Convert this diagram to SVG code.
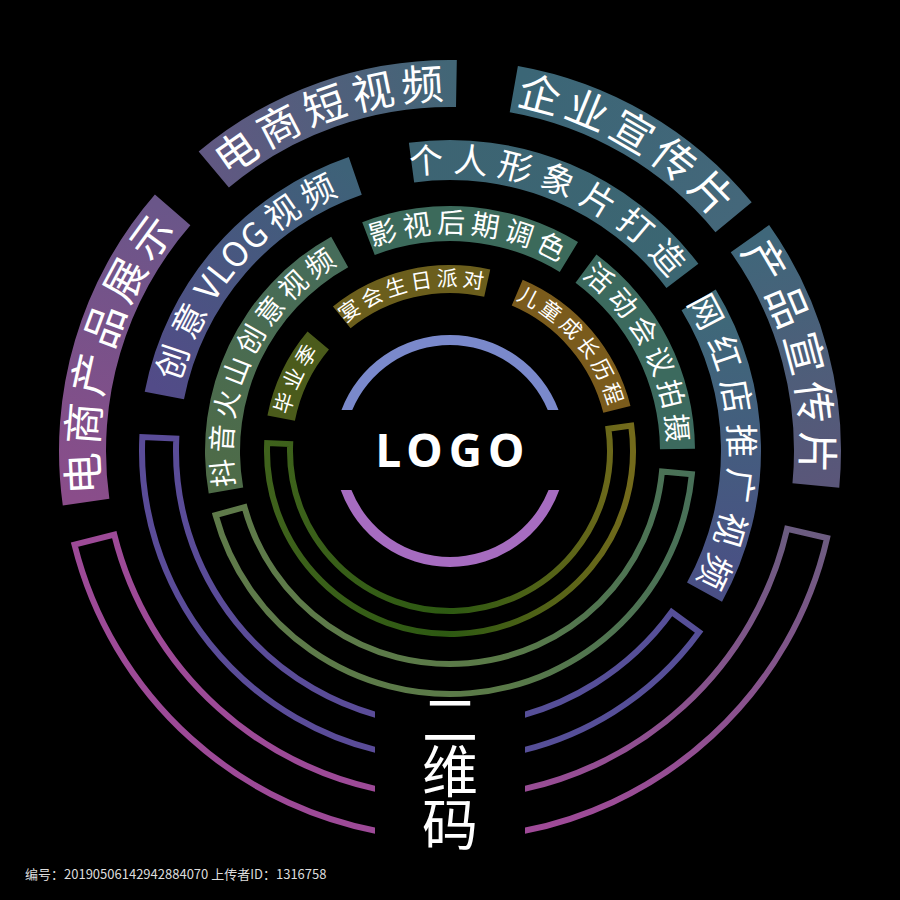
<svg xmlns="http://www.w3.org/2000/svg" xmlns:xlink="http://www.w3.org/1999/xlink" width="900" height="900" viewBox="0 0 900 900">
<style>
.lbl{font-family:"Noto Sans CJK SC","Noto Sans",sans-serif;fill:#ffffff;}
.r4{font-size:42px;letter-spacing:6px;}
.r3{font-size:34px;letter-spacing:9px;}
.r2{font-size:28px;letter-spacing:5px;}
.r1{font-size:21px;letter-spacing:4px;}
.ol{fill:none;stroke-width:6;stroke-linejoin:miter;}
</style>
<defs>
<linearGradient id="gA" gradientUnits="userSpaceOnUse" x1="86" y1="502" x2="172" y2="210"><stop offset="0" stop-color="#8a4d8a"/><stop offset="1" stop-color="#6a5689"/></linearGradient>
<linearGradient id="gB" gradientUnits="userSpaceOnUse" x1="214" y1="170" x2="456" y2="84"><stop offset="0" stop-color="#605882"/><stop offset="1" stop-color="#426676"/></linearGradient>
<linearGradient id="gC" gradientUnits="userSpaceOnUse" x1="514" y1="89" x2="735" y2="217"><stop offset="0" stop-color="#3b6676"/><stop offset="1" stop-color="#44677a"/></linearGradient>
<linearGradient id="gD" gradientUnits="userSpaceOnUse" x1="750" y1="239" x2="816" y2="486"><stop offset="0" stop-color="#3f677a"/><stop offset="1" stop-color="#5a5679"/></linearGradient>
<linearGradient id="gE" gradientUnits="userSpaceOnUse" x1="164" y1="396" x2="355" y2="176"><stop offset="0" stop-color="#524b88"/><stop offset="1" stop-color="#3e6278"/></linearGradient>
<linearGradient id="gF" gradientUnits="userSpaceOnUse" x1="411" y1="162" x2="682" y2="276"><stop offset="0" stop-color="#3d6473"/><stop offset="1" stop-color="#3b6672"/></linearGradient>
<linearGradient id="gG" gradientUnits="userSpaceOnUse" x1="698" y1="300" x2="705" y2="592"><stop offset="0" stop-color="#3e6a78"/><stop offset="1" stop-color="#4a4f85"/></linearGradient>
<linearGradient id="gH" gradientUnits="userSpaceOnUse" x1="226" y1="490" x2="340" y2="252"><stop offset="0" stop-color="#4e6b47"/><stop offset="1" stop-color="#466c5a"/></linearGradient>
<linearGradient id="gO1" gradientUnits="userSpaceOnUse" x1="267" y1="0" x2="631" y2="0"><stop offset="0" stop-color="#3f621c"/><stop offset="0.5" stop-color="#2d5912"/><stop offset="1" stop-color="#736a1b"/></linearGradient>
<linearGradient id="gO2" gradientUnits="userSpaceOnUse" x1="215" y1="0" x2="692" y2="0"><stop offset="0" stop-color="#5f7a4a"/><stop offset="0.6" stop-color="#5a7a48"/><stop offset="1" stop-color="#487058"/></linearGradient>
<linearGradient id="gO4R" gradientUnits="userSpaceOnUse" x1="0" y1="530" x2="0" y2="834"><stop offset="0" stop-color="#6b5c80"/><stop offset="1" stop-color="#a04a98"/></linearGradient>
<clipPath id="clipL"><rect x="0" y="0" width="375" height="900"/></clipPath>
<clipPath id="clipR"><rect x="525" y="0" width="375" height="900"/></clipPath>
<path id="tA" d="M101.42,499.99 A352,352 0 0,1 184.34,220.07"/>
<path id="tB" d="M223.74,181.35 A352,352 0 0,1 456.14,99.05"/>
<path id="tC" d="M511.12,104.35 A352,352 0 0,1 721.61,227.10"/>
<path id="tD" d="M737.28,247.59 A352,352 0 0,1 800.44,484.13"/>
<path id="tE" d="M176.13,397.76 A279,279 0 0,1 359.17,187.20"/>
<path id="tF" d="M413.10,174.45 A279,279 0 0,1 672.82,283.09"/>
<path id="tG" d="M688.38,306.05 A279,279 0 0,1 694.02,586.26"/>
<path id="tH" d="M235.31,488.86 A218,218 0 0,1 344.31,260.33"/>
<path id="tI" d="M371.88,247.48 A218,218 0 0,1 563.91,265.12"/>
<path id="tJ" d="M580.28,276.21 A218,218 0 0,1 667.99,449.10"/>
<path id="tK" d="M288.03,419.52 A165,165 0 0,1 323.60,344.94"/>
<path id="tL" d="M346.16,322.77 A165,165 0 0,1 485.71,289.91"/>
<path id="tM" d="M514.47,299.12 A165,165 0 0,1 610.10,411.08"/>
</defs>
<rect x="0" y="0" width="900" height="900" fill="#000000"/>

<g id="rings">
<path class="ol" stroke="url(#gO1)" d="M608.44,428.73 L631.22,425.53 A183,183 0 1,1 267.17,443.02 L290.15,444.02 A160,160 0 1,0 608.44,428.73 Z"/>
<path class="ol" stroke="url(#gO2)" d="M662.02,471.42 L691.88,474.29 A243,243 0 0,1 215.61,515.12 L244.55,507.20 A213,213 0 0,0 662.02,471.42 Z"/>
<path class="ol" stroke="#5a4c98" clip-path="url(#clipL)" d="M402.42,720.84 A274,274 0 0,1 176.28,438.57 L142.32,437.03 A308,308 0 0,0 396.52,754.32"/>
<path class="ol" stroke="#564f98" clip-path="url(#clipR)" d="M497.58,720.84 A274,274 0 0,0 671.67,612.05 L699.18,632.04 A308,308 0 0,1 503.48,754.32"/>
<path class="ol" stroke="#9d4a97" clip-path="url(#clipL)" d="M401.85,793.63 A346,346 0 0,1 114.28,534.70 L74.49,544.62 A387,387 0 0,0 396.14,834.23"/>
<path class="ol" stroke="url(#gO4R)" clip-path="url(#clipR)" d="M498.15,793.63 A346,346 0 0,0 787.13,528.83 L827.08,538.06 A387,387 0 0,1 503.86,834.23"/>
</g>

<g id="logo">
<path fill="#7a89cb" d="M341.49,410 A116,116 0 0,1 558.51,410 L547.75,410 A106,106 0 0,0 352.25,410 Z"/>
<path fill="#a66cc0" d="M340.75,490 A116,116 0 0,0 559.25,490 L548.56,490 A106,106 0 0,1 351.44,490 Z"/>
<text x="453" y="467" text-anchor="middle" font-family="'Noto Sans','Liberation Sans',sans-serif" font-weight="bold" font-size="46" letter-spacing="6" fill="#ffffff">LOGO</text>
</g>

<g id="node-dianshang-chanpin">
<path fill="url(#gA)" d="M62.80,505.42 A391,391 0 0,1 154.91,194.48 L190.38,225.32 A344,344 0 0,0 109.35,498.87 Z"/>
<text class="lbl r4"><textPath href="#tA" xlink:href="#tA" startOffset="50%" text-anchor="middle">电商产品展示</textPath></text>
</g>
<g id="node-dianshang-duanshipin">
<path fill="url(#gB)" d="M198.67,151.48 A391,391 0 0,1 456.82,60.06 L456.00,107.05 A344,344 0 0,0 228.88,187.48 Z"/>
<text class="lbl r4"><textPath href="#tB" xlink:href="#tB" startOffset="50%" text-anchor="middle">电商短视频</textPath></text>
</g>
<g id="node-qiye">
<path fill="url(#gC)" d="M517.90,65.94 A391,391 0 0,1 751.70,202.29 L715.44,232.19 A344,344 0 0,0 509.74,112.23 Z"/>
<text class="lbl r4"><textPath href="#tC" xlink:href="#tC" startOffset="50%" text-anchor="middle">企业宣传片</textPath></text>
</g>
<g id="node-chanpin">
<path fill="url(#gD)" d="M769.11,225.06 A391,391 0 0,1 839.26,487.80 L792.47,483.37 A344,344 0 0,0 730.75,252.22 Z"/>
<text class="lbl r4"><textPath href="#tD" xlink:href="#tD" startOffset="50%" text-anchor="middle">产品宣传片</textPath></text>
</g>

<g id="node-vlog">
<path fill="url(#gE)" d="M144.71,391.66 A311,311 0 0,1 348.75,156.94 L361.77,194.76 A271,271 0 0,0 183.98,399.29 Z"/>
<text class="lbl r3" letter-spacing="6"><textPath href="#tE" xlink:href="#tE" startOffset="50%" text-anchor="middle">创意<tspan letter-spacing="1">VLO</tspan><tspan letter-spacing="6">G视频</tspan></textPath></text>
</g>
<g id="node-geren">
<path fill="url(#gF)" d="M408.87,142.73 A311,311 0 0,1 698.38,263.83 L666.43,287.91 A271,271 0 0,0 414.16,182.38 Z"/>
<text class="lbl r3"><textPath href="#tF" xlink:href="#tF" startOffset="50%" text-anchor="middle">个人形象片打造</textPath></text>
</g>
<g id="node-wanghong">
<path fill="url(#gG)" d="M715.72,289.43 A311,311 0 0,1 722.01,601.78 L687.02,582.38 A271,271 0 0,0 681.55,310.21 Z"/>
<text class="lbl r3"><textPath href="#tG" xlink:href="#tG" startOffset="50%" text-anchor="middle">网红店推广视频</textPath></text>
</g>

<g id="node-douyin">
<path fill="url(#gH)" d="M208.72,493.54 A245,245 0 0,1 331.22,236.72 L348.19,267.33 A210,210 0 0,0 243.19,487.47 Z"/>
<text class="lbl r2"><textPath href="#tH" xlink:href="#tH" startOffset="50%" text-anchor="middle">抖音火山创意视频</textPath></text>
</g>
<g id="node-yingshi">
<path fill="#3c6a5b" d="M362.20,222.27 A245,245 0 0,1 578.01,242.10 L559.73,271.95 A210,210 0 0,0 374.74,254.95 Z"/>
<text class="lbl r2"><textPath href="#tI" xlink:href="#tI" startOffset="50%" text-anchor="middle">影视后期调色</textPath></text>
</g>
<g id="node-huodong">
<path fill="#3c6a5e" d="M596.42,254.56 A245,245 0 0,1 694.99,448.86 L659.99,449.17 A210,210 0 0,0 575.50,282.63 Z"/>
<text class="lbl r2"><textPath href="#tJ" xlink:href="#tJ" startOffset="50%" text-anchor="middle">活动会议拍摄</textPath></text>
</g>

<g id="node-biye">
<path fill="#4b5b1b" d="M267.42,415.51 A186,186 0 0,1 307.52,331.44 L328.97,349.44 A158,158 0 0,0 294.90,420.85 Z"/>
<text class="lbl r1" font-size="19" letter-spacing="8"><textPath href="#tK" xlink:href="#tK" startOffset="50%" text-anchor="middle">毕业季</textPath></text>
</g>
<g id="node-yanhui">
<path fill="#6b5e1c" d="M332.95,306.45 A186,186 0 0,1 490.26,269.41 L484.20,296.74 A158,158 0 0,0 350.57,328.21 Z"/>
<text class="lbl r1"><textPath href="#tL" xlink:href="#tL" startOffset="50%" text-anchor="middle">宴会生日派对</textPath></text>
</g>
<g id="node-ertong">
<path fill="#7a5b1c" d="M522.68,279.79 A186,186 0 0,1 630.48,406.00 L603.31,412.78 A158,158 0 0,0 511.74,305.56 Z"/>
<text class="lbl r1" letter-spacing="5"><textPath href="#tM" xlink:href="#tM" startOffset="50%" text-anchor="middle">儿童成长历程</textPath></text>
</g>

<g id="qrcode">
<text class="lbl" font-size="56" text-anchor="middle"><tspan x="450" y="740">二</tspan><tspan x="450" y="792">维</tspan><tspan x="450" y="845">码</tspan></text>
</g>

<g id="footer">
<text x="25" y="879" font-family="'Noto Sans CJK SC','Noto Sans',sans-serif" font-size="13" fill="#dddddd">编号：20190506142942884070 上传者ID：1316758</text>
</g>
</svg>
